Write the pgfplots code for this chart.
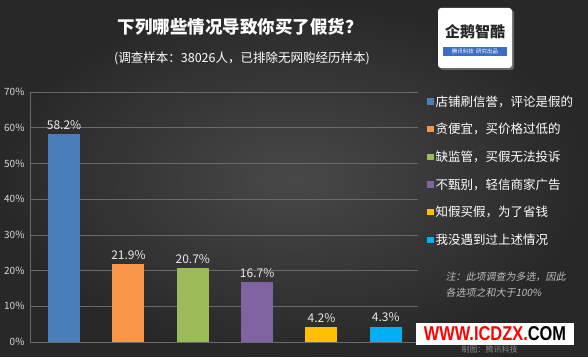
\documentclass[border=0pt]{standalone}
\usepackage{pgfplots}
\pgfplotsset{compat=1.18}
\usepackage{fontspec}
\setmainfont{Noto Sans CJK SC}
\newfontfamily\cjkit[FakeSlant=0.2]{Noto Sans CJK SC}
\newfontfamily\wm{Liberation Sans}
\definecolor{bgin}{HTML}{484848}
\definecolor{bgout}{HTML}{282828}
\definecolor{gridc}{HTML}{6A6A6A}
\definecolor{tickc}{HTML}{D8D8D8}
\definecolor{c1}{HTML}{4A7EBB}
\definecolor{c2}{HTML}{F79646}
\definecolor{c3}{HTML}{9BBB59}
\definecolor{c4}{HTML}{8064A2}
\definecolor{c5}{HTML}{FFC000}
\definecolor{c6}{HTML}{00B0F0}
\definecolor{logoblue}{HTML}{3A6FC4}
\begin{document}
\begin{tikzpicture}
\shade[inner color=bgin, outer color=bgout] (0,0) rectangle (588pt,357pt);
\node[text=white, font=\fontsize{17.5}{20}\selectfont\bfseries] at (240pt,330pt) {下列哪些情况导致你买了假货？};
\node[text=white, font=\fontsize{12.5}{15}\selectfont] at (242pt,299pt) {(调查样本：38026人，已排除无网购经历样本)};
% logo
\fill[black!60, rounded corners=3pt] (440pt,287pt) rectangle (514pt,347pt);
\fill[white, rounded corners=3pt] (438pt,289pt) rectangle (512pt,349pt);
\node[text=black!85, font=\fontsize{15}{17}\selectfont\bfseries] at (475pt,325pt) {企鹅智酷};
\fill[logoblue] (443pt,301pt) rectangle (507pt,310pt);
\node[text=white, font=\fontsize{5.5}{6}\selectfont] at (475pt,305.5pt) {腾讯科技\ \ 研究出品};
\begin{axis}[
  at={(30pt,15pt)}, anchor=south west, scale only axis,
  width=388pt, height=250pt,
  ymin=0, ymax=70, xmin=-0.53, xmax=5.5,
  ytick={0,10,...,70}, xtick=\empty,
  yticklabel={\pgfmathprintnumber{\tick}\%},
  /pgf/number format/assume math mode=true,
  yticklabel style={font=\fontsize{10}{12}\selectfont, text=tickc, xshift=-2pt},
  major tick length=0pt,
  axis lines*=left,
  axis line style={draw=gridc, line width=0.7pt},
  ymajorgrids, grid style={draw=gridc, line width=0.6pt},
  ybar, bar width=32pt, bar shift=0pt,
  nodes near coords={\pgfmathprintnumber[fixed,fixed zerofill,precision=1]{\pgfplotspointmeta}\%},
  nodes near coords style={text=white!92!black, font=\fontsize{12}{14}\selectfont, anchor=south, yshift=1pt},
  legend style={at={(1.023,0.995)}, anchor=north west, draw=none, fill=none,
    text=white, font=\fontsize{12.5}{15}\selectfont, row sep=11.6pt,
    inner sep=0pt, cells={anchor=west}},
  legend image code/.code={\fill[#1,draw=none] (0pt,-3.2pt) rectangle (6.5pt,3.2pt);},
  /tikz/every even column/.append style={column sep=0pt},
]
\addplot[fill=c1, draw=none] coordinates {(0,58.2)};
\addplot[fill=c2, draw=none] coordinates {(1,21.9)};
\addplot[fill=c3, draw=none] coordinates {(2,20.7)};
\addplot[fill=c4, draw=none] coordinates {(3,16.7)};
\addplot[fill=c5, draw=none] coordinates {(4,4.2)};
\addplot[fill=c6, draw=none] coordinates {(5,4.3)};
\legend{店铺刷信誉，评论是假的, 贪便宜，买价格过低的, 缺监管，买假无法投诉, 不甄别，轻信商家广告, 知假买假，为了省钱, 我没遇到过上述情况}
\end{axis}
\node[anchor=west, text=black!25, font=\cjkit\fontsize{10}{12}\selectfont] at (442pt,80pt) {注：此项调查为多选，因此};
\node[anchor=west, text=black!25, font=\cjkit\fontsize{10}{12}\selectfont] at (442pt,64pt) {各选项之和大于100\%};
\node[anchor=west, text=black!45, font=\fontsize{8}{9}\selectfont] at (458pt,7pt) {制图：腾讯科技};
\fill[white] (416pt,12pt) rectangle (574pt,34pt);
\node[anchor=center, font=\wm\bfseries\fontsize{20}{22}\selectfont, xscale=0.82] at (495pt,23pt) {\textcolor{red}{WWW.ICDZX.}\textcolor{black}{COM}};
\end{tikzpicture}
\end{document}
